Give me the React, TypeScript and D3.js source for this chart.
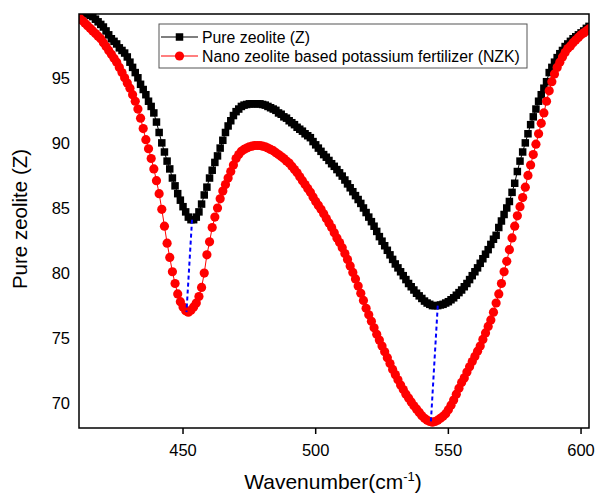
import React from "react";
import * as d3 from "d3";

const wavenumbers: number[] = d3.range(411, 604);

const pureZeolite: number[] = [
  100.2, 100.1, 100.0, 99.9, 99.8, 99.7, 99.5, 99.3, 99.1, 98.9,
  98.6, 98.3, 98.0, 97.8, 97.6, 97.3, 97.1, 96.9, 96.6, 96.2,
  95.8, 95.4, 95.0, 94.5, 94.1, 93.7, 93.2, 92.8, 92.3, 91.6,
  90.8, 90.0, 89.3, 88.6, 88.0, 87.3, 86.7, 86.1, 85.6, 85.1,
  84.7, 84.3, 84.1, 84.1, 84.3, 84.7, 85.3, 86.0, 86.6, 87.3,
  87.9, 88.5, 89.0, 89.6, 90.2, 90.8, 91.3, 91.7, 92.1, 92.4,
  92.6, 92.8, 92.9, 92.95, 93.0, 93.0, 93.0, 93.0, 93.0, 92.95,
  92.9, 92.8, 92.7, 92.6, 92.5, 92.3, 92.2, 92.0, 91.9, 91.7,
  91.55, 91.4, 91.2, 91.05, 90.9, 90.7, 90.55, 90.4, 90.1, 89.85,
  89.6, 89.35, 89.1, 88.9, 88.65, 88.4, 88.2, 87.95, 87.7, 87.45,
  87.15, 86.85, 86.55, 86.25, 85.95, 85.65, 85.35, 85.0, 84.65, 84.3,
  83.95, 83.6, 83.2, 82.8, 82.45, 82.1, 81.75, 81.4, 81.05, 80.7,
  80.4, 80.1, 79.8, 79.5, 79.2, 78.95, 78.7, 78.45, 78.25, 78.05,
  77.85, 77.7, 77.6, 77.5, 77.5, 77.5, 77.55, 77.6, 77.7, 77.8,
  77.95, 78.1, 78.3, 78.5, 78.7, 78.95, 79.2, 79.5, 79.8, 80.1,
  80.4, 80.75, 81.1, 81.45, 81.8, 82.2, 82.6, 82.9, 83.5, 84.0,
  84.5, 85.0, 85.5, 86.2, 86.9, 87.8, 88.6, 89.3, 90.0, 90.7,
  91.4, 92.0, 92.6, 93.2, 93.7, 94.2, 94.7, 95.4, 95.8, 96.2,
  96.55, 96.85, 97.1, 97.4, 97.6, 97.8, 98.0, 98.15, 98.3, 98.45,
  98.6, 98.8, 98.95,
];

const nanoZeoliteK: number[] = [
  99.6, 99.4, 99.2, 99.0, 98.8, 98.6, 98.4, 98.2, 98.0, 97.7,
  97.4, 97.1, 96.8, 96.5, 96.2, 95.8, 95.4, 95.0, 94.6, 94.2,
  93.7, 93.2, 92.6, 91.9, 91.1, 90.25, 89.55, 88.8, 88.0, 87.1,
  86.1, 84.9, 83.6, 82.3, 81.2, 80.1, 79.2, 78.4, 77.8, 77.4,
  77.1, 77.0, 77.15, 77.4, 77.7, 78.2, 78.9, 80.0, 81.4, 82.4,
  83.5, 84.3, 85.0, 85.7, 86.3, 86.8, 87.3, 87.8, 88.3, 88.8,
  89.1, 89.35, 89.5, 89.6, 89.7, 89.75, 89.8, 89.8, 89.8, 89.75,
  89.7, 89.6, 89.5, 89.4, 89.25, 89.1, 88.95, 88.8, 88.6, 88.45,
  88.2, 87.95, 87.7, 87.4, 87.1, 86.8, 86.5, 86.2, 85.85, 85.5,
  85.2, 84.9, 84.55, 84.2, 83.85, 83.5, 83.1, 82.7, 82.35, 81.95,
  81.5, 81.05, 80.55, 80.05, 79.55, 79.0, 78.45, 77.9, 77.3, 76.8,
  76.3, 75.8, 75.3, 74.85, 74.4, 73.95, 73.5, 73.05, 72.6, 72.2,
  71.8, 71.4, 71.05, 70.7, 70.4, 70.1, 69.8, 69.55, 69.3, 69.05,
  68.85, 68.7, 68.6, 68.55, 68.6, 68.7, 68.85, 69.0, 69.2, 69.5,
  69.85, 70.25, 70.7, 71.15, 71.6, 71.95, 72.4, 72.8, 73.2, 73.6,
  74.0, 74.4, 74.9, 75.4, 75.9, 76.4, 77.0, 77.7, 78.4, 79.2,
  80.1, 80.9, 81.8, 82.7, 83.6, 84.4, 85.1, 85.8, 86.6, 87.5,
  88.3, 89.1, 89.9, 90.7, 91.5, 92.3, 93.2, 94.0, 94.7, 95.3,
  95.8, 96.2, 96.6, 96.95, 97.25, 97.45, 97.7, 97.9, 98.1, 98.3,
  98.45, 98.6, 98.75,
];

// dashed guide lines joining the two minima: [wavenumber, value]
const guide1: [number, number][] = [[453.4, 84.1], [451.3, 77.0]];
const guide2: [number, number][] = [[546.0, 77.5], [543.4, 68.55]];

const xTicks: number[] = [450, 500, 550, 600];
const yTicks: number[] = [70, 75, 80, 85, 90, 95];

const seriesNames: string[] = ["Pure zeolite (Z)", "Nano zeolite based potassium fertilizer (NZK)"];

const W = 597;
const H = 495;
const M = { left: 79, top: 14, right: 589, bottom: 428 };

export default function App() {
  const x = d3.scaleLinear().domain([410.8, 603.0]).range([M.left, M.right]);
  const y = d3.scaleLinear().domain([68.1, 99.9]).range([M.bottom, M.top]);

  const zPts = wavenumbers.map((w, i) => [w, pureZeolite[i]] as [number, number]);
  const nPts = wavenumbers.map((w, i) => [w, nanoZeoliteK[i]] as [number, number]);

  const line = d3
    .line<[number, number]>()
    .x((d) => x(d[0]))
    .y((d) => y(d[1]));

  const font = "Arial, 'Liberation Sans', sans-serif";
  const sq = 7.5;
  const r = 4.6;

  return (
    <svg
      width={W}
      height={H}
      style={{ position: "absolute", left: 0, top: 0, background: "#fff" }}
      fontFamily={font}
    >
      <defs>
        <clipPath id="plotclip">
          <rect x={M.left} y={M.top} width={M.right - M.left} height={M.bottom - M.top} />
        </clipPath>
      </defs>
      <rect x={0} y={0} width={W} height={H} fill="#fff" />

      <g clipPath="url(#plotclip)">
        <path d={line(zPts) || ""} fill="none" stroke="#000" strokeWidth={1} />
        {zPts.map((d, i) => (
          <rect key={"z" + i} x={x(d[0]) - sq / 2} y={y(d[1]) - sq / 2} width={sq} height={sq} fill="#000" />
        ))}
        <path d={line(nPts) || ""} fill="none" stroke="#ff0000" strokeWidth={1} />
        {nPts.map((d, i) => (
          <circle key={"n" + i} cx={x(d[0])} cy={y(d[1])} r={r} fill="#ff0000" />
        ))}
        <path d={line(guide1) || ""} fill="none" stroke="#0000ff" strokeWidth={2} strokeDasharray="4,3" />
        <path d={line(guide2) || ""} fill="none" stroke="#0000ff" strokeWidth={2} strokeDasharray="4,3" />
      </g>

      {/* frame */}
      <rect
        x={M.left}
        y={M.top}
        width={M.right - M.left}
        height={M.bottom - M.top}
        fill="none"
        stroke="#000"
        strokeWidth={1.5}
      />

      {/* x ticks */}
      {xTicks.map((t) => (
        <g key={"xt" + t}>
          <line x1={x(t)} x2={x(t)} y1={M.bottom} y2={M.bottom + 6} stroke="#000" strokeWidth={1.5} />
          <text x={x(t)} y={M.bottom + 28} textAnchor="middle" fontSize={16.5} fill="#000">
            {t}
          </text>
        </g>
      ))}

      {/* y tick labels */}
      {yTicks.map((t) => (
        <text key={"yt" + t} x={70} y={y(t) + 6} textAnchor="end" fontSize={16.5} fill="#000">
          {t}
        </text>
      ))}

      {/* axis titles */}
      <text x={333} y={489} textAnchor="middle" fontSize={21} fill="#000">
        Wavenumber(cm
        <tspan fontSize={13} dy={-8}>-1</tspan>
        <tspan dy={8}>)</tspan>
      </text>
      <text
        transform={`translate(27,${(M.top + M.bottom) / 2 - 2}) rotate(-90)`}
        textAnchor="middle"
        fontSize={20.5}
        fill="#000"
      >
        Pure zeolite (Z)
      </text>

      {/* legend */}
      <g>
        <rect x={159} y={24} width={368} height={44} fill="#fff" stroke="#555" strokeWidth={1} />
        <line x1={161} x2={198} y1={37} y2={37} stroke="#000" strokeWidth={1.2} />
        <rect x={179.5 - sq / 2} y={37 - sq / 2} width={sq} height={sq} fill="#000" />
        <text x={202} y={42.5} fontSize={15.8} fill="#000">
          {seriesNames[0]}
        </text>
        <line x1={161} x2={198} y1={56} y2={56} stroke="#ff0000" strokeWidth={1.2} />
        <circle cx={179.5} cy={56} r={r} fill="#ff0000" />
        <text x={202} y={61.5} fontSize={15.8} fill="#000">
          {seriesNames[1]}
        </text>
      </g>
    </svg>
  );
}
